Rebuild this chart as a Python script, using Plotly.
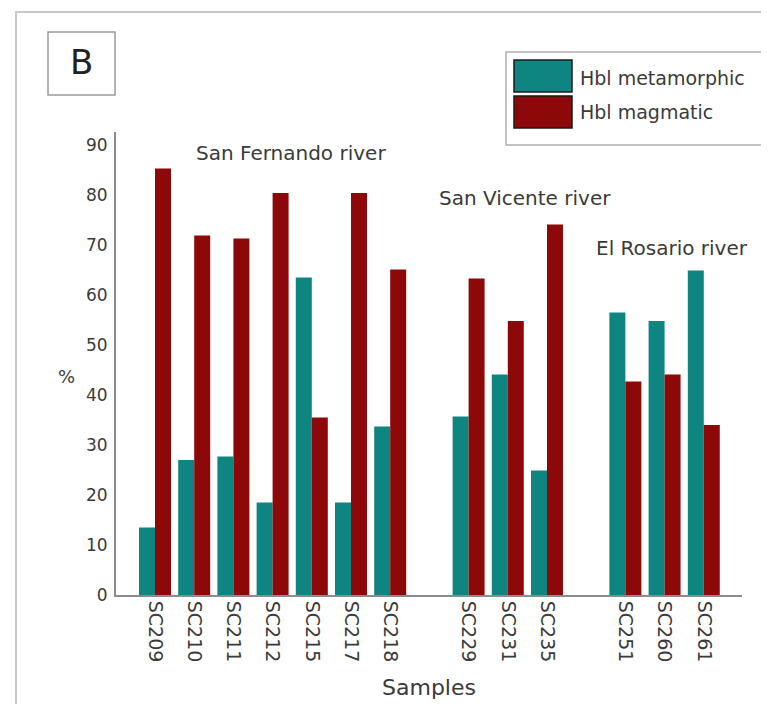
import plotly.graph_objects as go

# ---- data ----
samples = ["SC209", "SC210", "SC211", "SC212", "SC215", "SC217", "SC218",
           "SC229", "SC231", "SC235",
           "SC251", "SC260", "SC261"]
group_sizes = [7, 3, 3]
rivers = ["San Fernando river", "San Vicente river", "El Rosario river"]
hbl_metamorphic = [13.5, 27.0, 27.7, 18.5, 63.5, 18.5, 33.7,
                   35.7, 44.1, 24.9,
                   56.5, 54.8, 64.9]
hbl_magmatic = [85.3, 71.9, 71.3, 80.4, 35.5, 80.4, 65.1,
                63.3, 54.8, 74.1,
                42.7, 44.1, 34.0]
y_ticks = list(range(0, 100, 10))

# x positions: one empty slot between river groups
xpos = []
start = 0
for gi, n in enumerate(group_sizes):
    xpos.extend([start + i for i in range(n)])
    start += n + 1

TEAL = "#0e8580"
RED = "#8d0808"
FONT = "DejaVu Sans"
TXT = "#3a3a3a"

OFF = 8  # page body margin
W, H = 769 - OFF, 704 - OFF
L, R, T, B = 116 - OFF, 27, 132 - OFF, 109


def px(x):
    return (x - OFF - L) / (W - L - R)


def py(y):
    return (H - B - (y - OFF)) / (H - T - B)


fig = go.Figure()
fig.add_trace(go.Bar(x=xpos, y=hbl_metamorphic, name="Hbl metamorphic",
                     marker=dict(color=TEAL, line=dict(width=0)), showlegend=False))
fig.add_trace(go.Bar(x=xpos, y=hbl_magmatic, name="Hbl magmatic",
                     marker=dict(color=RED, line=dict(width=0)), showlegend=False))

fig.update_layout(
    width=W, height=H,
    margin=dict(l=L, r=R, t=T, b=B, autoexpand=False),
    paper_bgcolor="white", plot_bgcolor="white",
    barmode="group", bargap=0.184, bargroupgap=0,
    font=dict(family=FONT, color=TXT, size=18),
    xaxis=dict(range=[-0.995, 14.975], tickmode="array", tickvals=xpos,
               ticktext=samples, tickangle=90, ticks="", showgrid=False,
               zeroline=False, showline=True, linecolor="#8c8c8c", linewidth=2,
               tickfont=dict(size=19, family=FONT, color=TXT),
               title=dict(text="Samples", font=dict(size=22, family=FONT, color=TXT),
                          standoff=18)),
    yaxis=dict(range=[0, 92.6], tickmode="array", tickvals=y_ticks, ticks="",
               showgrid=False, zeroline=False, showline=True, linecolor="#8c8c8c",
               linewidth=2, tickfont=dict(size=17, family=FONT, color=TXT),
               ticklabelstandoff=3),
)

# y-axis title "%" (horizontal)
fig.add_annotation(xref="paper", yref="paper", x=px(66), y=py(376), text="%",
                   xanchor="center", yanchor="middle",
                   showarrow=False, font=dict(size=18, family=FONT, color=TXT))

# river labels
river_xy = [(3.47, 88.4), (9.44, 79.4), (13.19, 69.4)]
for name, (xv, yv) in zip(rivers, river_xy):
    fig.add_annotation(x=xv, y=yv, text=name, showarrow=False,
                       xanchor="center", yanchor="middle",
                       font=dict(size=20, family=FONT, color=TXT))

# outer frame
fig.add_shape(type="rect", xref="paper", yref="paper", x0=px(16), x1=px(800),
              y0=py(740), y1=py(12), line=dict(color="#c8c8c8", width=2), layer="below")

# "B" panel label
fig.add_shape(type="rect", xref="paper", yref="paper", x0=px(48), x1=px(115),
              y0=py(95), y1=py(32), line=dict(color="#9a9a9a", width=1.5))
fig.add_annotation(xref="paper", yref="paper", x=px(81.5), y=py(62), text="B",
                   xanchor="center", yanchor="middle",
                   showarrow=False, font=dict(size=34, family=FONT, color="#222"))

# custom legend
fig.add_shape(type="rect", xref="paper", yref="paper", x0=px(506), x1=px(767),
              y0=py(145), y1=py(52), line=dict(color="#b0b0b0", width=1.5))
fig.add_shape(type="rect", xref="paper", yref="paper", x0=px(514), x1=px(572),
              y0=py(92), y1=py(60), fillcolor=TEAL, line=dict(color="#1a1a1a", width=1.5))
fig.add_shape(type="rect", xref="paper", yref="paper", x0=px(514), x1=px(572),
              y0=py(128), y1=py(96), fillcolor=RED, line=dict(color="#1a1a1a", width=1.5))
for label, yy in [("Hbl metamorphic", 78), ("Hbl magmatic", 112)]:
    fig.add_annotation(xref="paper", yref="paper", x=px(578), y=py(yy), text=label,
                       xanchor="left", yanchor="middle", showarrow=False,
                       font=dict(size=19, family=FONT, color=TXT))

fig.write_html("out.html")
